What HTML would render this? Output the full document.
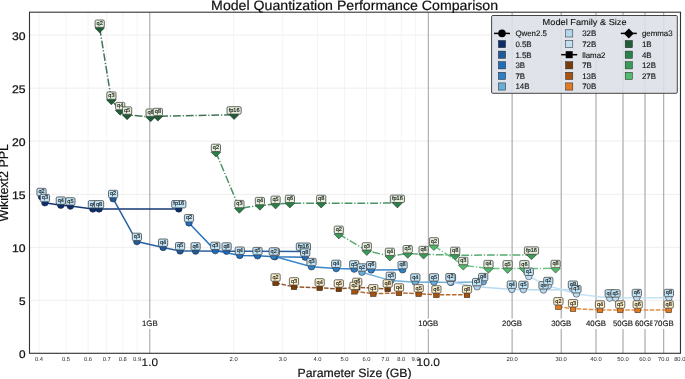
<!DOCTYPE html>
<html><head><meta charset="utf-8"><style>html,body{margin:0;padding:0;background:#fff;overflow:hidden}svg{display:block;will-change:transform}text{text-rendering:geometricPrecision}</style></head>
<body>
<svg width="685" height="379" viewBox="0 0 685 379">
<rect width="685" height="379" fill="#fff"/>
<defs><clipPath id="ax"><rect x="29.5" y="12.2" width="651.0" height="341.1"/></clipPath></defs>
<path d="M39.0 12.2V353.3M66.0 12.2V353.3M88.0 12.2V353.3M106.7 12.2V353.3M122.8 12.2V353.3M137.1 12.2V353.3M233.6 12.2V353.3M282.7 12.2V353.3M317.5 12.2V353.3M344.5 12.2V353.3M366.5 12.2V353.3M385.2 12.2V353.3M401.3 12.2V353.3M415.6 12.2V353.3M512.1 12.2V353.3M561.2 12.2V353.3M596.0 12.2V353.3M623.0 12.2V353.3M645.0 12.2V353.3M663.7 12.2V353.3M679.8 12.2V353.3" stroke="#f4f4f4" stroke-width="1" fill="none"/>
<path d="M29.5 353.3H680.5M29.5 300.3H680.5M29.5 247.3H680.5M29.5 194.3H680.5M29.5 141.2H680.5M29.5 88.2H680.5M29.5 35.2H680.5" stroke="#f1f1f1" stroke-width="1.2" fill="none"/>
<path d="M149.8 12.2V353.3M428.3 12.2V353.3M512.1 12.2V353.3M561.2 12.2V353.3M596.0 12.2V353.3M623.0 12.2V353.3M645.0 12.2V353.3M663.7 12.2V353.3" stroke="#a0a0a0" stroke-width="1" fill="none"/>
<g clip-path="url(#ax)">
<path d="M41.5 196.7 L44.9 202.8 L60.8 205.3 L70.4 206.1 L92.9 209.0 L99.1 209.0 L178.8 208.9" stroke="#0b2f6e" stroke-opacity="0.95" stroke-width="1.5" fill="none"/>
<circle cx="41.5" cy="196.7" r="3.3" fill="#0b2f6e" stroke="#1a1a2a" stroke-width="0.5"/>
<circle cx="44.9" cy="202.8" r="3.3" fill="#0b2f6e" stroke="#1a1a2a" stroke-width="0.5"/>
<circle cx="60.8" cy="205.3" r="3.3" fill="#0b2f6e" stroke="#1a1a2a" stroke-width="0.5"/>
<circle cx="70.4" cy="206.1" r="3.3" fill="#0b2f6e" stroke="#1a1a2a" stroke-width="0.5"/>
<circle cx="92.9" cy="209.0" r="3.3" fill="#0b2f6e" stroke="#1a1a2a" stroke-width="0.5"/>
<circle cx="99.1" cy="209.0" r="3.3" fill="#0b2f6e" stroke="#1a1a2a" stroke-width="0.5"/>
<circle cx="178.8" cy="208.9" r="3.3" fill="#0b2f6e" stroke="#1a1a2a" stroke-width="0.5"/>
<path d="M113.1 198.7 L136.9 241.6 L163.1 247.4 L180.1 250.9 L195.6 251.1 L226.6 251.2 L303.4 251.4" stroke="#1f5a9c" stroke-opacity="0.95" stroke-width="1.5" fill="none"/>
<circle cx="113.1" cy="198.7" r="3.3" fill="#1f5a9c" stroke="#1a1a2a" stroke-width="0.5"/>
<circle cx="136.9" cy="241.6" r="3.3" fill="#1f5a9c" stroke="#1a1a2a" stroke-width="0.5"/>
<circle cx="163.1" cy="247.4" r="3.3" fill="#1f5a9c" stroke="#1a1a2a" stroke-width="0.5"/>
<circle cx="180.1" cy="250.9" r="3.3" fill="#1f5a9c" stroke="#1a1a2a" stroke-width="0.5"/>
<circle cx="195.6" cy="251.1" r="3.3" fill="#1f5a9c" stroke="#1a1a2a" stroke-width="0.5"/>
<circle cx="226.6" cy="251.2" r="3.3" fill="#1f5a9c" stroke="#1a1a2a" stroke-width="0.5"/>
<circle cx="303.4" cy="251.4" r="3.3" fill="#1f5a9c" stroke="#1a1a2a" stroke-width="0.5"/>
<path d="M189.0 222.9 L215.3 250.6 L239.8 255.4 L257.5 255.8 L274.9 256.7 L305.2 257.2" stroke="#1f6dbb" stroke-opacity="0.95" stroke-width="1.5" fill="none"/>
<circle cx="189.0" cy="222.9" r="3.3" fill="#1f6dbb" stroke="#1a1a2a" stroke-width="0.5"/>
<circle cx="215.3" cy="250.6" r="3.3" fill="#1f6dbb" stroke="#1a1a2a" stroke-width="0.5"/>
<circle cx="239.8" cy="255.4" r="3.3" fill="#1f6dbb" stroke="#1a1a2a" stroke-width="0.5"/>
<circle cx="257.5" cy="255.8" r="3.3" fill="#1f6dbb" stroke="#1a1a2a" stroke-width="0.5"/>
<circle cx="274.9" cy="256.7" r="3.3" fill="#1f6dbb" stroke="#1a1a2a" stroke-width="0.5"/>
<circle cx="305.2" cy="257.2" r="3.3" fill="#1f6dbb" stroke="#1a1a2a" stroke-width="0.5"/>
<path d="M273.7 256.2 L311.5 266.7 L336.2 268.6 L354.2 269.1 L371.2 269.9 L402.6 269.8" stroke="#2f7fc6" stroke-opacity="0.95" stroke-width="1.5" fill="none"/>
<circle cx="273.7" cy="256.2" r="3.3" fill="#2f7fc6" stroke="#1a1a2a" stroke-width="0.5"/>
<circle cx="311.5" cy="266.7" r="3.3" fill="#2f7fc6" stroke="#1a1a2a" stroke-width="0.5"/>
<circle cx="336.2" cy="268.6" r="3.3" fill="#2f7fc6" stroke="#1a1a2a" stroke-width="0.5"/>
<circle cx="354.2" cy="269.1" r="3.3" fill="#2f7fc6" stroke="#1a1a2a" stroke-width="0.5"/>
<circle cx="371.2" cy="269.9" r="3.3" fill="#2f7fc6" stroke="#1a1a2a" stroke-width="0.5"/>
<circle cx="402.6" cy="269.8" r="3.3" fill="#2f7fc6" stroke="#1a1a2a" stroke-width="0.5"/>
<path d="M361.9 272.2 L390.8 280.6 L415.3 282.2 L433.9 282.1 L451.0 282.4 L483.2 281.8" stroke="#6aadd9" stroke-opacity="0.95" stroke-width="1.5" fill="none"/>
<circle cx="361.9" cy="272.2" r="3.3" fill="#6aadd9" stroke="#1a1a2a" stroke-width="0.5"/>
<circle cx="390.8" cy="280.6" r="3.3" fill="#6aadd9" stroke="#1a1a2a" stroke-width="0.5"/>
<circle cx="415.3" cy="282.2" r="3.3" fill="#6aadd9" stroke="#1a1a2a" stroke-width="0.5"/>
<circle cx="433.9" cy="282.1" r="3.3" fill="#6aadd9" stroke="#1a1a2a" stroke-width="0.5"/>
<circle cx="451.0" cy="282.4" r="3.3" fill="#6aadd9" stroke="#1a1a2a" stroke-width="0.5"/>
<circle cx="483.2" cy="281.8" r="3.3" fill="#6aadd9" stroke="#1a1a2a" stroke-width="0.5"/>
<path d="M450.4 281.9 L477.1 286.8 L511.8 289.4 L523.4 289.6 L543.5 290.0 L572.9 289.4" stroke="#b4d7ee" stroke-opacity="0.95" stroke-width="1.5" fill="none"/>
<circle cx="450.4" cy="281.9" r="3.3" fill="#b4d7ee" stroke="#1a1a2a" stroke-width="0.5"/>
<circle cx="477.1" cy="286.8" r="3.3" fill="#b4d7ee" stroke="#1a1a2a" stroke-width="0.5"/>
<circle cx="511.8" cy="289.4" r="3.3" fill="#b4d7ee" stroke="#1a1a2a" stroke-width="0.5"/>
<circle cx="523.4" cy="289.6" r="3.3" fill="#b4d7ee" stroke="#1a1a2a" stroke-width="0.5"/>
<circle cx="543.5" cy="290.0" r="3.3" fill="#b4d7ee" stroke="#1a1a2a" stroke-width="0.5"/>
<circle cx="572.9" cy="289.4" r="3.3" fill="#b4d7ee" stroke="#1a1a2a" stroke-width="0.5"/>
<path d="M528.8 276.5 L548.3 285.7 L576.4 293.9 L609.7 298.1 L615.5 298.1 L636.8 297.7 L668.9 297.7" stroke="#c0e0f2" stroke-opacity="0.95" stroke-width="1.5" fill="none"/>
<circle cx="528.8" cy="276.5" r="3.3" fill="#c0e0f2" stroke="#1a1a2a" stroke-width="0.5"/>
<circle cx="548.3" cy="285.7" r="3.3" fill="#c0e0f2" stroke="#1a1a2a" stroke-width="0.5"/>
<circle cx="576.4" cy="293.9" r="3.3" fill="#c0e0f2" stroke="#1a1a2a" stroke-width="0.5"/>
<circle cx="609.7" cy="298.1" r="3.3" fill="#c0e0f2" stroke="#1a1a2a" stroke-width="0.5"/>
<circle cx="615.5" cy="298.1" r="3.3" fill="#c0e0f2" stroke="#1a1a2a" stroke-width="0.5"/>
<circle cx="636.8" cy="297.7" r="3.3" fill="#c0e0f2" stroke="#1a1a2a" stroke-width="0.5"/>
<circle cx="668.9" cy="297.7" r="3.3" fill="#c0e0f2" stroke="#1a1a2a" stroke-width="0.5"/>
<path d="M275.6 282.9 L294.0 286.8 L319.7 287.8 L338.8 288.9 L357.2 287.3 L387.7 288.9" stroke="#7a3b0a" stroke-opacity="0.85" stroke-width="1.5" fill="none" stroke-dasharray="4.6 1.5"/>
<rect x="272.8" y="280.1" width="5.6" height="5.6" fill="#7a3b0a" stroke="#2a1a0a" stroke-width="0.5"/>
<rect x="291.2" y="284.0" width="5.6" height="5.6" fill="#7a3b0a" stroke="#2a1a0a" stroke-width="0.5"/>
<rect x="316.9" y="285.0" width="5.6" height="5.6" fill="#7a3b0a" stroke="#2a1a0a" stroke-width="0.5"/>
<rect x="336.0" y="286.1" width="5.6" height="5.6" fill="#7a3b0a" stroke="#2a1a0a" stroke-width="0.5"/>
<rect x="354.4" y="284.5" width="5.6" height="5.6" fill="#7a3b0a" stroke="#2a1a0a" stroke-width="0.5"/>
<rect x="384.9" y="286.1" width="5.6" height="5.6" fill="#7a3b0a" stroke="#2a1a0a" stroke-width="0.5"/>
<path d="M354.5 291.3 L373.3 293.7 L399.0 292.9 L418.7 293.7 L436.4 294.8 L467.0 294.8" stroke="#a8520f" stroke-opacity="0.85" stroke-width="1.5" fill="none" stroke-dasharray="4.6 1.5"/>
<rect x="351.7" y="288.5" width="5.6" height="5.6" fill="#a8520f" stroke="#2a1a0a" stroke-width="0.5"/>
<rect x="370.5" y="290.9" width="5.6" height="5.6" fill="#a8520f" stroke="#2a1a0a" stroke-width="0.5"/>
<rect x="396.2" y="290.1" width="5.6" height="5.6" fill="#a8520f" stroke="#2a1a0a" stroke-width="0.5"/>
<rect x="415.9" y="290.9" width="5.6" height="5.6" fill="#a8520f" stroke="#2a1a0a" stroke-width="0.5"/>
<rect x="433.6" y="292.0" width="5.6" height="5.6" fill="#a8520f" stroke="#2a1a0a" stroke-width="0.5"/>
<rect x="464.2" y="292.0" width="5.6" height="5.6" fill="#a8520f" stroke="#2a1a0a" stroke-width="0.5"/>
<path d="M558.4 306.7 L573.0 308.7 L600.0 309.9 L620.2 309.9 L637.7 309.9 L668.7 309.9" stroke="#e07b24" stroke-opacity="0.85" stroke-width="1.5" fill="none" stroke-dasharray="4.6 1.5"/>
<rect x="555.6" y="303.9" width="5.6" height="5.6" fill="#e07b24" stroke="#2a1a0a" stroke-width="0.5"/>
<rect x="570.2" y="305.9" width="5.6" height="5.6" fill="#e07b24" stroke="#2a1a0a" stroke-width="0.5"/>
<rect x="597.2" y="307.1" width="5.6" height="5.6" fill="#e07b24" stroke="#2a1a0a" stroke-width="0.5"/>
<rect x="617.4" y="307.1" width="5.6" height="5.6" fill="#e07b24" stroke="#2a1a0a" stroke-width="0.5"/>
<rect x="634.9" y="307.1" width="5.6" height="5.6" fill="#e07b24" stroke="#2a1a0a" stroke-width="0.5"/>
<rect x="665.9" y="307.1" width="5.6" height="5.6" fill="#e07b24" stroke="#2a1a0a" stroke-width="0.5"/>
<path d="M99.7 28.0 L111.4 99.9 L120.2 110.4 L127.1 114.9 L150.6 117.0 L157.9 116.3 L234.1 114.7" stroke="#1f5c38" stroke-opacity="0.85" stroke-width="1.5" fill="none" stroke-dasharray="7.8 1.9 1.2 1.9"/>
<path d="M99.7 23.2L104.5 28.0L99.7 32.8L94.9 28.0Z" fill="#1f5c38" stroke="#102010" stroke-width="0.5"/>
<path d="M111.4 95.1L116.2 99.9L111.4 104.7L106.6 99.9Z" fill="#1f5c38" stroke="#102010" stroke-width="0.5"/>
<path d="M120.2 105.6L125.0 110.4L120.2 115.2L115.4 110.4Z" fill="#1f5c38" stroke="#102010" stroke-width="0.5"/>
<path d="M127.1 110.1L131.9 114.9L127.1 119.7L122.3 114.9Z" fill="#1f5c38" stroke="#102010" stroke-width="0.5"/>
<path d="M150.6 112.2L155.4 117.0L150.6 121.8L145.8 117.0Z" fill="#1f5c38" stroke="#102010" stroke-width="0.5"/>
<path d="M157.9 111.5L162.7 116.3L157.9 121.1L153.1 116.3Z" fill="#1f5c38" stroke="#102010" stroke-width="0.5"/>
<path d="M234.1 109.9L238.9 114.7L234.1 119.5L229.3 114.7Z" fill="#1f5c38" stroke="#102010" stroke-width="0.5"/>
<path d="M215.9 152.2 L239.4 208.4 L259.9 205.4 L275.6 204.1 L289.9 203.2 L321.2 203.2 L397.4 203.1" stroke="#2a8048" stroke-opacity="0.85" stroke-width="1.5" fill="none" stroke-dasharray="7.8 1.9 1.2 1.9"/>
<path d="M215.9 147.4L220.7 152.2L215.9 157.0L211.1 152.2Z" fill="#2a8048" stroke="#102010" stroke-width="0.5"/>
<path d="M239.4 203.6L244.2 208.4L239.4 213.2L234.6 208.4Z" fill="#2a8048" stroke="#102010" stroke-width="0.5"/>
<path d="M259.9 200.6L264.7 205.4L259.9 210.2L255.1 205.4Z" fill="#2a8048" stroke="#102010" stroke-width="0.5"/>
<path d="M275.6 199.3L280.4 204.1L275.6 208.9L270.8 204.1Z" fill="#2a8048" stroke="#102010" stroke-width="0.5"/>
<path d="M289.9 198.4L294.7 203.2L289.9 208.0L285.1 203.2Z" fill="#2a8048" stroke="#102010" stroke-width="0.5"/>
<path d="M321.2 198.4L326.0 203.2L321.2 208.0L316.4 203.2Z" fill="#2a8048" stroke="#102010" stroke-width="0.5"/>
<path d="M397.4 198.3L402.2 203.1L397.4 207.9L392.6 203.1Z" fill="#2a8048" stroke="#102010" stroke-width="0.5"/>
<path d="M338.8 234.1 L366.8 250.7 L389.9 256.2 L407.7 253.5 L423.6 254.3 L455.2 255.2 L531.5 254.9" stroke="#3a9b58" stroke-opacity="0.85" stroke-width="1.5" fill="none" stroke-dasharray="7.8 1.9 1.2 1.9"/>
<path d="M338.8 229.3L343.6 234.1L338.8 238.9L334.0 234.1Z" fill="#3a9b58" stroke="#102010" stroke-width="0.5"/>
<path d="M366.8 245.9L371.6 250.7L366.8 255.5L362.0 250.7Z" fill="#3a9b58" stroke="#102010" stroke-width="0.5"/>
<path d="M389.9 251.4L394.7 256.2L389.9 261.0L385.1 256.2Z" fill="#3a9b58" stroke="#102010" stroke-width="0.5"/>
<path d="M407.7 248.7L412.5 253.5L407.7 258.3L402.9 253.5Z" fill="#3a9b58" stroke="#102010" stroke-width="0.5"/>
<path d="M423.6 249.5L428.4 254.3L423.6 259.1L418.8 254.3Z" fill="#3a9b58" stroke="#102010" stroke-width="0.5"/>
<path d="M455.2 250.4L460.0 255.2L455.2 260.0L450.4 255.2Z" fill="#3a9b58" stroke="#102010" stroke-width="0.5"/>
<path d="M531.5 250.1L536.3 254.9L531.5 259.7L526.7 254.9Z" fill="#3a9b58" stroke="#102010" stroke-width="0.5"/>
<path d="M433.9 245.7 L463.3 265.3 L488.5 268.4 L507.6 268.6 L524.4 268.6 L555.6 268.3" stroke="#50bb6c" stroke-opacity="0.85" stroke-width="1.5" fill="none" stroke-dasharray="7.8 1.9 1.2 1.9"/>
<path d="M433.9 240.9L438.7 245.7L433.9 250.5L429.1 245.7Z" fill="#50bb6c" stroke="#102010" stroke-width="0.5"/>
<path d="M463.3 260.5L468.1 265.3L463.3 270.1L458.5 265.3Z" fill="#50bb6c" stroke="#102010" stroke-width="0.5"/>
<path d="M488.5 263.6L493.3 268.4L488.5 273.2L483.7 268.4Z" fill="#50bb6c" stroke="#102010" stroke-width="0.5"/>
<path d="M507.6 263.8L512.4 268.6L507.6 273.4L502.8 268.6Z" fill="#50bb6c" stroke="#102010" stroke-width="0.5"/>
<path d="M524.4 263.8L529.2 268.6L524.4 273.4L519.6 268.6Z" fill="#50bb6c" stroke="#102010" stroke-width="0.5"/>
<path d="M555.6 263.5L560.4 268.3L555.6 273.1L550.8 268.3Z" fill="#50bb6c" stroke="#102010" stroke-width="0.5"/>
</g>
<g font-family="Liberation Sans, sans-serif" font-size="5.6" text-anchor="middle" fill="#1a1a1a" stroke="#1a1a1a" stroke-width="0.15">
<rect x="36.9" y="188.3" width="9.2" height="7.4" rx="1.3" fill="#bfe4f8" stroke="#454545" stroke-width="0.8"/>
<text x="41.5" y="193.2">q2</text>
<rect x="40.3" y="194.4" width="9.2" height="7.4" rx="1.3" fill="#bfe4f8" stroke="#454545" stroke-width="0.8"/>
<text x="44.9" y="199.3">q3</text>
<rect x="56.2" y="196.9" width="9.2" height="7.4" rx="1.3" fill="#bfe4f8" stroke="#454545" stroke-width="0.8"/>
<text x="60.8" y="201.8">q4</text>
<rect x="65.8" y="197.7" width="9.2" height="7.4" rx="1.3" fill="#bfe4f8" stroke="#454545" stroke-width="0.8"/>
<text x="70.4" y="202.6">q5</text>
<rect x="88.3" y="200.6" width="9.2" height="7.4" rx="1.3" fill="#bfe4f8" stroke="#454545" stroke-width="0.8"/>
<text x="92.9" y="205.5">q6</text>
<rect x="94.5" y="200.6" width="9.2" height="7.4" rx="1.3" fill="#bfe4f8" stroke="#454545" stroke-width="0.8"/>
<text x="99.1" y="205.5">q8</text>
<rect x="171.7" y="200.5" width="14.2" height="7.4" rx="1.3" fill="#bfe4f8" stroke="#454545" stroke-width="0.8"/>
<text x="178.8" y="205.4">fp16</text>
<rect x="108.5" y="190.3" width="9.2" height="7.4" rx="1.3" fill="#bfe4f8" stroke="#454545" stroke-width="0.8"/>
<text x="113.1" y="195.2">q2</text>
<rect x="132.3" y="233.2" width="9.2" height="7.4" rx="1.3" fill="#bfe4f8" stroke="#454545" stroke-width="0.8"/>
<text x="136.9" y="238.1">q3</text>
<rect x="158.5" y="239.0" width="9.2" height="7.4" rx="1.3" fill="#bfe4f8" stroke="#454545" stroke-width="0.8"/>
<text x="163.1" y="243.9">q4</text>
<rect x="175.5" y="242.5" width="9.2" height="7.4" rx="1.3" fill="#bfe4f8" stroke="#454545" stroke-width="0.8"/>
<text x="180.1" y="247.4">q5</text>
<rect x="191.0" y="242.7" width="9.2" height="7.4" rx="1.3" fill="#bfe4f8" stroke="#454545" stroke-width="0.8"/>
<text x="195.6" y="247.6">q6</text>
<rect x="222.0" y="242.8" width="9.2" height="7.4" rx="1.3" fill="#bfe4f8" stroke="#454545" stroke-width="0.8"/>
<text x="226.6" y="247.7">q8</text>
<rect x="296.3" y="243.0" width="14.2" height="7.4" rx="1.3" fill="#bfe4f8" stroke="#454545" stroke-width="0.8"/>
<text x="303.4" y="247.9">fp16</text>
<rect x="184.4" y="214.5" width="9.2" height="7.4" rx="1.3" fill="#bfe4f8" stroke="#454545" stroke-width="0.8"/>
<text x="189.0" y="219.4">q2</text>
<rect x="210.7" y="242.2" width="9.2" height="7.4" rx="1.3" fill="#bfe4f8" stroke="#454545" stroke-width="0.8"/>
<text x="215.3" y="247.1">q3</text>
<rect x="235.2" y="247.0" width="9.2" height="7.4" rx="1.3" fill="#bfe4f8" stroke="#454545" stroke-width="0.8"/>
<text x="239.8" y="251.9">q4</text>
<rect x="252.9" y="247.4" width="9.2" height="7.4" rx="1.3" fill="#bfe4f8" stroke="#454545" stroke-width="0.8"/>
<text x="257.5" y="252.3">q5</text>
<rect x="270.3" y="248.3" width="9.2" height="7.4" rx="1.3" fill="#bfe4f8" stroke="#454545" stroke-width="0.8"/>
<text x="274.9" y="253.2">q6</text>
<rect x="300.6" y="248.8" width="9.2" height="7.4" rx="1.3" fill="#bfe4f8" stroke="#454545" stroke-width="0.8"/>
<text x="305.2" y="253.7">q8</text>
<rect x="269.1" y="247.8" width="9.2" height="7.4" rx="1.3" fill="#bfe4f8" stroke="#454545" stroke-width="0.8"/>
<text x="273.7" y="252.7">q2</text>
<rect x="306.9" y="258.3" width="9.2" height="7.4" rx="1.3" fill="#bfe4f8" stroke="#454545" stroke-width="0.8"/>
<text x="311.5" y="263.2">q3</text>
<rect x="331.6" y="260.2" width="9.2" height="7.4" rx="1.3" fill="#bfe4f8" stroke="#454545" stroke-width="0.8"/>
<text x="336.2" y="265.1">q4</text>
<rect x="349.6" y="260.7" width="9.2" height="7.4" rx="1.3" fill="#bfe4f8" stroke="#454545" stroke-width="0.8"/>
<text x="354.2" y="265.6">q5</text>
<rect x="366.6" y="261.5" width="9.2" height="7.4" rx="1.3" fill="#bfe4f8" stroke="#454545" stroke-width="0.8"/>
<text x="371.2" y="266.4">q6</text>
<rect x="398.0" y="261.4" width="9.2" height="7.4" rx="1.3" fill="#bfe4f8" stroke="#454545" stroke-width="0.8"/>
<text x="402.6" y="266.3">q8</text>
<rect x="357.3" y="263.8" width="9.2" height="7.4" rx="1.3" fill="#bfe4f8" stroke="#454545" stroke-width="0.8"/>
<text x="361.9" y="268.7">q2</text>
<rect x="386.2" y="272.2" width="9.2" height="7.4" rx="1.3" fill="#bfe4f8" stroke="#454545" stroke-width="0.8"/>
<text x="390.8" y="277.1">q3</text>
<rect x="410.7" y="273.8" width="9.2" height="7.4" rx="1.3" fill="#bfe4f8" stroke="#454545" stroke-width="0.8"/>
<text x="415.3" y="278.7">q4</text>
<rect x="429.3" y="273.7" width="9.2" height="7.4" rx="1.3" fill="#bfe4f8" stroke="#454545" stroke-width="0.8"/>
<text x="433.9" y="278.6">q5</text>
<rect x="446.4" y="274.0" width="9.2" height="7.4" rx="1.3" fill="#bfe4f8" stroke="#454545" stroke-width="0.8"/>
<text x="451.0" y="278.9">q6</text>
<rect x="478.6" y="273.4" width="9.2" height="7.4" rx="1.3" fill="#bfe4f8" stroke="#454545" stroke-width="0.8"/>
<text x="483.2" y="278.3">q8</text>
<rect x="445.8" y="273.5" width="9.2" height="7.4" rx="1.3" fill="#bfe4f8" stroke="#454545" stroke-width="0.8"/>
<text x="450.4" y="278.4">q2</text>
<rect x="472.5" y="278.4" width="9.2" height="7.4" rx="1.3" fill="#bfe4f8" stroke="#454545" stroke-width="0.8"/>
<text x="477.1" y="283.3">q3</text>
<rect x="507.2" y="281.0" width="9.2" height="7.4" rx="1.3" fill="#bfe4f8" stroke="#454545" stroke-width="0.8"/>
<text x="511.8" y="285.9">q4</text>
<rect x="518.8" y="281.2" width="9.2" height="7.4" rx="1.3" fill="#bfe4f8" stroke="#454545" stroke-width="0.8"/>
<text x="523.4" y="286.1">q5</text>
<rect x="538.9" y="281.6" width="9.2" height="7.4" rx="1.3" fill="#bfe4f8" stroke="#454545" stroke-width="0.8"/>
<text x="543.5" y="286.5">q6</text>
<rect x="568.3" y="281.0" width="9.2" height="7.4" rx="1.3" fill="#bfe4f8" stroke="#454545" stroke-width="0.8"/>
<text x="572.9" y="285.9">q8</text>
<rect x="524.2" y="268.1" width="9.2" height="7.4" rx="1.3" fill="#bfe4f8" stroke="#454545" stroke-width="0.8"/>
<text x="528.8" y="273.0">q1</text>
<rect x="543.7" y="277.3" width="9.2" height="7.4" rx="1.3" fill="#bfe4f8" stroke="#454545" stroke-width="0.8"/>
<text x="548.3" y="282.2">q2</text>
<rect x="571.8" y="285.5" width="9.2" height="7.4" rx="1.3" fill="#bfe4f8" stroke="#454545" stroke-width="0.8"/>
<text x="576.4" y="290.4">q3</text>
<rect x="605.1" y="289.7" width="9.2" height="7.4" rx="1.3" fill="#bfe4f8" stroke="#454545" stroke-width="0.8"/>
<text x="609.7" y="294.6">q4</text>
<rect x="610.9" y="289.7" width="9.2" height="7.4" rx="1.3" fill="#bfe4f8" stroke="#454545" stroke-width="0.8"/>
<text x="615.5" y="294.6">q5</text>
<rect x="632.2" y="289.3" width="9.2" height="7.4" rx="1.3" fill="#bfe4f8" stroke="#454545" stroke-width="0.8"/>
<text x="636.8" y="294.2">q6</text>
<rect x="664.3" y="289.3" width="9.2" height="7.4" rx="1.3" fill="#bfe4f8" stroke="#454545" stroke-width="0.8"/>
<text x="668.9" y="294.2">q8</text>
<rect x="271.0" y="273.8" width="9.2" height="7.4" rx="1.3" fill="#fdefc6" stroke="#454545" stroke-width="0.8"/>
<text x="275.6" y="278.7">q2</text>
<rect x="289.4" y="277.7" width="9.2" height="7.4" rx="1.3" fill="#fdefc6" stroke="#454545" stroke-width="0.8"/>
<text x="294.0" y="282.6">q3</text>
<rect x="315.1" y="278.7" width="9.2" height="7.4" rx="1.3" fill="#fdefc6" stroke="#454545" stroke-width="0.8"/>
<text x="319.7" y="283.6">q4</text>
<rect x="334.2" y="279.8" width="9.2" height="7.4" rx="1.3" fill="#fdefc6" stroke="#454545" stroke-width="0.8"/>
<text x="338.8" y="284.7">q5</text>
<rect x="352.6" y="278.2" width="9.2" height="7.4" rx="1.3" fill="#fdefc6" stroke="#454545" stroke-width="0.8"/>
<text x="357.2" y="283.1">q6</text>
<rect x="383.1" y="279.8" width="9.2" height="7.4" rx="1.3" fill="#fdefc6" stroke="#454545" stroke-width="0.8"/>
<text x="387.7" y="284.7">q8</text>
<rect x="349.9" y="282.2" width="9.2" height="7.4" rx="1.3" fill="#fdefc6" stroke="#454545" stroke-width="0.8"/>
<text x="354.5" y="287.1">q2</text>
<rect x="368.7" y="284.6" width="9.2" height="7.4" rx="1.3" fill="#fdefc6" stroke="#454545" stroke-width="0.8"/>
<text x="373.3" y="289.5">q3</text>
<rect x="394.4" y="283.8" width="9.2" height="7.4" rx="1.3" fill="#fdefc6" stroke="#454545" stroke-width="0.8"/>
<text x="399.0" y="288.7">q4</text>
<rect x="414.1" y="284.6" width="9.2" height="7.4" rx="1.3" fill="#fdefc6" stroke="#454545" stroke-width="0.8"/>
<text x="418.7" y="289.5">q5</text>
<rect x="431.8" y="285.7" width="9.2" height="7.4" rx="1.3" fill="#fdefc6" stroke="#454545" stroke-width="0.8"/>
<text x="436.4" y="290.6">q6</text>
<rect x="462.4" y="285.7" width="9.2" height="7.4" rx="1.3" fill="#fdefc6" stroke="#454545" stroke-width="0.8"/>
<text x="467.0" y="290.6">q8</text>
<rect x="553.8" y="297.6" width="9.2" height="7.4" rx="1.3" fill="#fdefc6" stroke="#454545" stroke-width="0.8"/>
<text x="558.4" y="302.5">q2</text>
<rect x="568.4" y="299.6" width="9.2" height="7.4" rx="1.3" fill="#fdefc6" stroke="#454545" stroke-width="0.8"/>
<text x="573.0" y="304.5">q3</text>
<rect x="595.4" y="300.8" width="9.2" height="7.4" rx="1.3" fill="#fdefc6" stroke="#454545" stroke-width="0.8"/>
<text x="600.0" y="305.7">q4</text>
<rect x="615.6" y="300.8" width="9.2" height="7.4" rx="1.3" fill="#fdefc6" stroke="#454545" stroke-width="0.8"/>
<text x="620.2" y="305.7">q5</text>
<rect x="633.1" y="300.8" width="9.2" height="7.4" rx="1.3" fill="#fdefc6" stroke="#454545" stroke-width="0.8"/>
<text x="637.7" y="305.7">q6</text>
<rect x="664.1" y="300.8" width="9.2" height="7.4" rx="1.3" fill="#fdefc6" stroke="#454545" stroke-width="0.8"/>
<text x="668.7" y="305.7">q8</text>
<rect x="95.1" y="20.0" width="9.2" height="7.4" rx="1.3" fill="#e2efd9" stroke="#454545" stroke-width="0.8"/>
<text x="99.7" y="24.9">q2</text>
<rect x="106.8" y="91.9" width="9.2" height="7.4" rx="1.3" fill="#e2efd9" stroke="#454545" stroke-width="0.8"/>
<text x="111.4" y="96.8">q3</text>
<rect x="115.6" y="102.4" width="9.2" height="7.4" rx="1.3" fill="#e2efd9" stroke="#454545" stroke-width="0.8"/>
<text x="120.2" y="107.3">q4</text>
<rect x="122.5" y="106.9" width="9.2" height="7.4" rx="1.3" fill="#e2efd9" stroke="#454545" stroke-width="0.8"/>
<text x="127.1" y="111.8">q5</text>
<rect x="146.0" y="109.0" width="9.2" height="7.4" rx="1.3" fill="#e2efd9" stroke="#454545" stroke-width="0.8"/>
<text x="150.6" y="113.9">q6</text>
<rect x="153.3" y="108.3" width="9.2" height="7.4" rx="1.3" fill="#e2efd9" stroke="#454545" stroke-width="0.8"/>
<text x="157.9" y="113.2">q8</text>
<rect x="227.0" y="106.7" width="14.2" height="7.4" rx="1.3" fill="#e2efd9" stroke="#454545" stroke-width="0.8"/>
<text x="234.1" y="111.6">fp16</text>
<rect x="211.3" y="144.2" width="9.2" height="7.4" rx="1.3" fill="#e2efd9" stroke="#454545" stroke-width="0.8"/>
<text x="215.9" y="149.1">q2</text>
<rect x="234.8" y="200.4" width="9.2" height="7.4" rx="1.3" fill="#e2efd9" stroke="#454545" stroke-width="0.8"/>
<text x="239.4" y="205.3">q3</text>
<rect x="255.3" y="197.4" width="9.2" height="7.4" rx="1.3" fill="#e2efd9" stroke="#454545" stroke-width="0.8"/>
<text x="259.9" y="202.3">q4</text>
<rect x="271.0" y="196.1" width="9.2" height="7.4" rx="1.3" fill="#e2efd9" stroke="#454545" stroke-width="0.8"/>
<text x="275.6" y="201.0">q5</text>
<rect x="285.3" y="195.2" width="9.2" height="7.4" rx="1.3" fill="#e2efd9" stroke="#454545" stroke-width="0.8"/>
<text x="289.9" y="200.1">q6</text>
<rect x="316.6" y="195.2" width="9.2" height="7.4" rx="1.3" fill="#e2efd9" stroke="#454545" stroke-width="0.8"/>
<text x="321.2" y="200.1">q8</text>
<rect x="390.3" y="195.1" width="14.2" height="7.4" rx="1.3" fill="#e2efd9" stroke="#454545" stroke-width="0.8"/>
<text x="397.4" y="200.0">fp16</text>
<rect x="334.2" y="226.1" width="9.2" height="7.4" rx="1.3" fill="#e2efd9" stroke="#454545" stroke-width="0.8"/>
<text x="338.8" y="231.0">q2</text>
<rect x="362.2" y="242.7" width="9.2" height="7.4" rx="1.3" fill="#e2efd9" stroke="#454545" stroke-width="0.8"/>
<text x="366.8" y="247.6">q3</text>
<rect x="385.3" y="248.2" width="9.2" height="7.4" rx="1.3" fill="#e2efd9" stroke="#454545" stroke-width="0.8"/>
<text x="389.9" y="253.1">q4</text>
<rect x="403.1" y="245.5" width="9.2" height="7.4" rx="1.3" fill="#e2efd9" stroke="#454545" stroke-width="0.8"/>
<text x="407.7" y="250.4">q5</text>
<rect x="419.0" y="246.3" width="9.2" height="7.4" rx="1.3" fill="#e2efd9" stroke="#454545" stroke-width="0.8"/>
<text x="423.6" y="251.2">q6</text>
<rect x="450.6" y="247.2" width="9.2" height="7.4" rx="1.3" fill="#e2efd9" stroke="#454545" stroke-width="0.8"/>
<text x="455.2" y="252.1">q8</text>
<rect x="524.4" y="246.9" width="14.2" height="7.4" rx="1.3" fill="#e2efd9" stroke="#454545" stroke-width="0.8"/>
<text x="531.5" y="251.8">fp16</text>
<rect x="429.3" y="237.7" width="9.2" height="7.4" rx="1.3" fill="#e2efd9" stroke="#454545" stroke-width="0.8"/>
<text x="433.9" y="242.6">q2</text>
<rect x="458.7" y="257.3" width="9.2" height="7.4" rx="1.3" fill="#e2efd9" stroke="#454545" stroke-width="0.8"/>
<text x="463.3" y="262.2">q3</text>
<rect x="483.9" y="260.4" width="9.2" height="7.4" rx="1.3" fill="#e2efd9" stroke="#454545" stroke-width="0.8"/>
<text x="488.5" y="265.3">q4</text>
<rect x="503.0" y="260.6" width="9.2" height="7.4" rx="1.3" fill="#e2efd9" stroke="#454545" stroke-width="0.8"/>
<text x="507.6" y="265.5">q5</text>
<rect x="519.8" y="260.6" width="9.2" height="7.4" rx="1.3" fill="#e2efd9" stroke="#454545" stroke-width="0.8"/>
<text x="524.4" y="265.5">q6</text>
<rect x="551.0" y="260.3" width="9.2" height="7.4" rx="1.3" fill="#e2efd9" stroke="#454545" stroke-width="0.8"/>
<text x="555.6" y="265.2">q8</text>
</g>
<g font-family="Liberation Sans, sans-serif" font-size="7.8" text-anchor="middle" fill="#1a1a1a" stroke="#1a1a1a" stroke-width="0.15">
<rect x="141.1" y="318.6" width="17.4" height="10.5" fill="#fff" stroke="none"/>
<text x="149.8" y="326.0">1GB</text>
<rect x="417.2" y="318.6" width="22.2" height="10.5" fill="#fff" stroke="none"/>
<text x="428.3" y="326.0">10GB</text>
<rect x="501.0" y="318.6" width="22.2" height="10.5" fill="#fff" stroke="none"/>
<text x="512.1" y="326.0">20GB</text>
<rect x="550.1" y="318.6" width="22.2" height="10.5" fill="#fff" stroke="none"/>
<text x="561.2" y="326.0">30GB</text>
<rect x="584.9" y="318.6" width="22.2" height="10.5" fill="#fff" stroke="none"/>
<text x="596.0" y="326.0">40GB</text>
<rect x="611.9" y="318.6" width="22.2" height="10.5" fill="#fff" stroke="none"/>
<text x="623.0" y="326.0">50GB</text>
<rect x="633.9" y="318.6" width="22.2" height="10.5" fill="#fff" stroke="none"/>
<text x="645.0" y="326.0">60GB</text>
<rect x="652.6" y="318.6" width="22.2" height="10.5" fill="#fff" stroke="none"/>
<text x="663.7" y="326.0">70GB</text>
</g>
<rect x="29.5" y="12.2" width="651.0" height="341.1" fill="none" stroke="#333" stroke-width="1.1"/>
<g font-family="Liberation Sans, sans-serif" font-size="11" text-anchor="end" fill="#111" stroke="#111" stroke-width="0.25">
<text x="25.6" y="358.2" textLength="6.6" lengthAdjust="spacingAndGlyphs">0</text>
<text x="25.6" y="305.2" textLength="6.6" lengthAdjust="spacingAndGlyphs">5</text>
<text x="25.6" y="252.2" textLength="13.6" lengthAdjust="spacingAndGlyphs">10</text>
<text x="25.6" y="199.2" textLength="13.6" lengthAdjust="spacingAndGlyphs">15</text>
<text x="25.6" y="146.1" textLength="13.6" lengthAdjust="spacingAndGlyphs">20</text>
<text x="25.6" y="93.1" textLength="13.6" lengthAdjust="spacingAndGlyphs">25</text>
<text x="25.6" y="40.1" textLength="13.6" lengthAdjust="spacingAndGlyphs">30</text>
</g>
<g font-family="Liberation Sans, sans-serif" font-size="5.8" text-anchor="middle" fill="#222">
<text x="39.0" y="360.6">0.4</text>
<text x="66.0" y="360.6">0.5</text>
<text x="88.0" y="360.6">0.6</text>
<text x="106.7" y="360.6">0.7</text>
<text x="122.8" y="360.6">0.8</text>
<text x="137.1" y="360.6">0.9</text>
<text x="233.6" y="360.6">2.0</text>
<text x="282.7" y="360.6">3.0</text>
<text x="317.5" y="360.6">4.0</text>
<text x="344.5" y="360.6">5.0</text>
<text x="366.5" y="360.6">6.0</text>
<text x="385.2" y="360.6">7.0</text>
<text x="401.3" y="360.6">8.0</text>
<text x="415.6" y="360.6">9.0</text>
<text x="512.1" y="360.6">20.0</text>
<text x="561.2" y="360.6">30.0</text>
<text x="596.0" y="360.6">40.0</text>
<text x="623.0" y="360.6">50.0</text>
<text x="645.0" y="360.6">60.0</text>
<text x="663.7" y="360.6">70.0</text>
<text x="679.8" y="360.6">80.0</text>
</g>
<g font-family="Liberation Sans, sans-serif" font-size="11" text-anchor="middle" fill="#111" stroke="#111" stroke-width="0.12">
<text x="149.8" y="366" textLength="16.4" lengthAdjust="spacingAndGlyphs">1.0</text><text x="428.3" y="366" textLength="23.4" lengthAdjust="spacingAndGlyphs">10.0</text>
</g>
<text x="354.6" y="9.5" font-family="Liberation Sans, sans-serif" font-size="13.6" text-anchor="middle" fill="#111" stroke="#111" stroke-width="0.2" textLength="287" lengthAdjust="spacingAndGlyphs">Model Quantization Performance Comparison</text>
<text x="354.6" y="377.3" font-family="Liberation Sans, sans-serif" font-size="12" text-anchor="middle" fill="#111" stroke="#111" stroke-width="0.2" textLength="114" lengthAdjust="spacingAndGlyphs">Parameter Size (GB)</text>
<text transform="translate(8.4 182.8) rotate(-90)" font-family="Liberation Sans, sans-serif" font-size="13" text-anchor="middle" fill="#111" stroke="#111" stroke-width="0.2" textLength="77.4" lengthAdjust="spacingAndGlyphs">Wikitext2 PPL</text>
<rect x="491.6" y="15.5" width="185.7" height="77.8" rx="1.2" fill="#dde1e8" fill-opacity="0.9" stroke="#444" stroke-width="1"/>
<g font-family="Liberation Sans, sans-serif" fill="#111">
<text x="584.6" y="25.2" font-size="8.6" text-anchor="middle" stroke="#111" stroke-width="0.12" textLength="84" lengthAdjust="spacingAndGlyphs">Model Family &amp; Size</text>
<path d="M494 33.4H510" stroke="#000" stroke-width="1.5"/>
<circle cx="502" cy="33.4" r="3.8" fill="#000"/>
<text x="515.4" y="36.2" font-size="7.9" stroke="#111" stroke-width="0.12">Qwen2.5</text>
<rect x="498.4" y="40.5" width="7.2" height="7.2" fill="#0b2f6e" stroke="#222" stroke-width="0.5"/>
<text x="515.4" y="46.9" font-size="7.9" stroke="#111" stroke-width="0.12">0.5B</text>
<rect x="498.4" y="51.1" width="7.2" height="7.2" fill="#1f5a9c" stroke="#222" stroke-width="0.5"/>
<text x="515.4" y="57.5" font-size="7.9" stroke="#111" stroke-width="0.12">1.5B</text>
<rect x="498.4" y="61.7" width="7.2" height="7.2" fill="#1f6dbb" stroke="#222" stroke-width="0.5"/>
<text x="515.4" y="68.1" font-size="7.9" stroke="#111" stroke-width="0.12">3B</text>
<rect x="498.4" y="72.3" width="7.2" height="7.2" fill="#2f7fc6" stroke="#222" stroke-width="0.5"/>
<text x="515.4" y="78.7" font-size="7.9" stroke="#111" stroke-width="0.12">7B</text>
<rect x="498.4" y="82.9" width="7.2" height="7.2" fill="#6aadd9" stroke="#222" stroke-width="0.5"/>
<text x="515.4" y="89.3" font-size="7.9" stroke="#111" stroke-width="0.12">14B</text>
<rect x="565.6" y="29.8" width="7.2" height="7.2" fill="#b4d7ee" stroke="#222" stroke-width="0.5"/>
<text x="582.2" y="36.2" font-size="7.9" stroke="#111" stroke-width="0.12">32B</text>
<rect x="565.6" y="40.5" width="7.2" height="7.2" fill="#c0e0f2" stroke="#222" stroke-width="0.5"/>
<text x="582.2" y="46.9" font-size="7.9" stroke="#111" stroke-width="0.12">72B</text>
<path d="M561.2 54.7H577.2" stroke="#000" stroke-width="1.5"/>
<rect x="565.7" y="51.2" width="7" height="7" fill="#000"/>
<text x="582.2" y="57.5" font-size="7.9" stroke="#111" stroke-width="0.12">llama2</text>
<rect x="565.6" y="61.7" width="7.2" height="7.2" fill="#7a3b0a" stroke="#222" stroke-width="0.5"/>
<text x="582.2" y="68.1" font-size="7.9" stroke="#111" stroke-width="0.12">7B</text>
<rect x="565.6" y="72.3" width="7.2" height="7.2" fill="#a8520f" stroke="#222" stroke-width="0.5"/>
<text x="582.2" y="78.7" font-size="7.9" stroke="#111" stroke-width="0.12">13B</text>
<rect x="565.6" y="82.9" width="7.2" height="7.2" fill="#e07b24" stroke="#222" stroke-width="0.5"/>
<text x="582.2" y="89.3" font-size="7.9" stroke="#111" stroke-width="0.12">70B</text>
<path d="M620.8 33.4H636.8" stroke="#000" stroke-width="1.5"/>
<path d="M628.8 28.4L633.8 33.4L628.8 38.4L623.8 33.4Z" fill="#000"/>
<text x="641.9" y="36.2" font-size="7.9" stroke="#111" stroke-width="0.12">gemma3</text>
<rect x="625.2" y="40.5" width="7.2" height="7.2" fill="#1f5c38" stroke="#222" stroke-width="0.5"/>
<text x="641.9" y="46.9" font-size="7.9" stroke="#111" stroke-width="0.12">1B</text>
<rect x="625.2" y="51.1" width="7.2" height="7.2" fill="#2a8048" stroke="#222" stroke-width="0.5"/>
<text x="641.9" y="57.5" font-size="7.9" stroke="#111" stroke-width="0.12">4B</text>
<rect x="625.2" y="61.7" width="7.2" height="7.2" fill="#3a9b58" stroke="#222" stroke-width="0.5"/>
<text x="641.9" y="68.1" font-size="7.9" stroke="#111" stroke-width="0.12">12B</text>
<rect x="625.2" y="72.3" width="7.2" height="7.2" fill="#50bb6c" stroke="#222" stroke-width="0.5"/>
<text x="641.9" y="78.7" font-size="7.9" stroke="#111" stroke-width="0.12">27B</text>
</g>
</svg>
</body></html>
